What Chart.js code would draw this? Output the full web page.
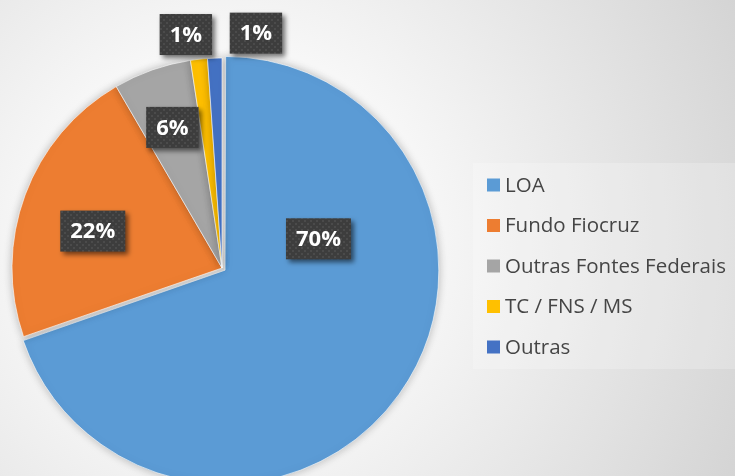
<!DOCTYPE html>
<html>
<head>
<meta charset="utf-8">
<script src="https://cdn.jsdelivr.net/npm/chart.js@4/dist/chart.umd.min.js"></script>
<style>
  html, body { margin: 0; padding: 0; background: #fff; }
  #wrap { width: 735px; height: 476px; }
</style>
</head>
<body>
<div id="wrap"><canvas id="myChart" width="735" height="476"></canvas></div>
<script>
/* Dados do gráfico */
const categorias = ["LOA", "Fundo Fiocruz", "Outras Fontes Federais", "TC / FNS / MS", "Outras"];
const valores = [69.7, 21.9, 6.0, 1.3, 1.1];
const cores = ["#5B9BD5", "#ED7D31", "#A5A5A5", "#FFC000", "#4472C4"];

const ctx = document.getElementById("myChart");

// padrão pontilhado das caixas dos rótulos
const makePattern = (c) => {
  const p = document.createElement("canvas");
  p.width = 6;
  p.height = 6;
  const pc = p.getContext("2d");
  pc.fillStyle = "#3d3d3d";
  pc.fillRect(0, 0, 6, 6);
  pc.fillStyle = "#4b4b4b";
  pc.fillRect(1, 1, 2, 2);
  pc.fillRect(4, 4, 2, 2);
  return c.createPattern(p, "repeat");
};

const fundo = {
  id: "fundo",
  beforeDraw(chart) {
    const c = chart.ctx;
    const g = c.createRadialGradient(230, 240, 0, 230, 240, 560);
    g.addColorStop(0, "#ffffff");
    g.addColorStop(0.35, "#f7f7f7");
    g.addColorStop(1, "#d4d4d4");
    c.save();
    c.fillStyle = g;
    c.fillRect(0, 0, chart.width, chart.height);
    c.restore();
  },
  beforeDatasetsDraw(chart) {
    chart.ctx.save();
    chart.ctx.shadowColor = "rgba(0,0,0,0.25)";
    chart.ctx.shadowBlur = 8;
  },
  afterDatasetsDraw(chart) {
    chart.ctx.restore();
  },
};

const legenda = {
  id: "legenda",
  afterDraw(chart) {
    const c = chart.ctx;
    c.save();
    c.fillStyle = "rgba(255,255,255,0.22)";
    c.fillRect(473, 163, 262, 206);
    c.font = "20.5px 'Open Sans'";
    c.textBaseline = "middle";
    categorias.forEach((nome, i) => {
      const y = 185 + i * 40.5;
      c.fillStyle = cores[i];
      c.fillRect(487, y - 6.5, 13, 13);
      c.fillStyle = "#454545";
      c.fillText(nome, 505, y + 1);
    });
    c.restore();
  },
};

const rotulos = {
  id: "rotulos",
  afterDatasetsDraw(chart, args, opts) {
    const c = chart.ctx;
    const meta = chart.getDatasetMeta(0);
    const total = valores.reduce((a, b) => a + b, 0);
    const pat = makePattern(c);
    c.save();
    c.font = "bold 22px 'Open Sans'";
    c.textAlign = "center";
    c.textBaseline = "middle";
    meta.data.forEach((arc, i) => {
      const p = arc.getProps(["x", "y", "startAngle", "endAngle", "outerRadius"], true);
      const pos = opts.posicao[i];
      const ang = (p.startAngle + p.endAngle) / 2 + (pos.desvio * Math.PI) / 180;
      const r = p.outerRadius * pos.raio;
      const x = p.x + Math.cos(ang) * r;
      const y = p.y + Math.sin(ang) * r;
      const txt = Math.round((valores[i] / total) * 100) + "%";
      const w = c.measureText(txt).width + 20;
      const h = 41;
      c.shadowColor = "rgba(0,0,0,0.55)";
      c.shadowBlur = 5;
      c.shadowOffsetX = 3;
      c.shadowOffsetY = 3;
      c.fillStyle = pat;
      c.fillRect(x - w / 2, y - h / 2, w, h);
      c.shadowColor = "transparent";
      c.fillStyle = "#ffffff";
      c.fillText(txt, x, y + 1);
    });
    c.restore();
  },
};

new Chart(ctx, {
  type: "pie",
  data: {
    labels: categorias,
    datasets: [
      {
        data: valores,
        backgroundColor: cores,
        borderColor: "rgba(255,255,255,0.6)",
        borderWidth: 1,
        offset: [15, 0, 0, 0, 0],
        clip: false,
      },
    ],
  },
  options: {
    responsive: false,
    animation: false,
    events: [],
    radius: 210,
    layout: { padding: { left: 0, top: 60, right: 291, bottom: 0 } },
    plugins: {
      legend: { display: false },
      tooltip: { enabled: false },
      rotulos: {
        posicao: [
          { desvio: -52.3, raio: 0.48 },
          { desvio: -4.4, raio: 0.64 },
          { desvio: 0, raio: 0.71 },
          { desvio: -2.5, raio: 1.125 },
          { desvio: 10.2, raio: 1.13 },
        ],
      },
    },
  },
  plugins: [fundo, rotulos, legenda],
});
</script>
</body>
</html>
